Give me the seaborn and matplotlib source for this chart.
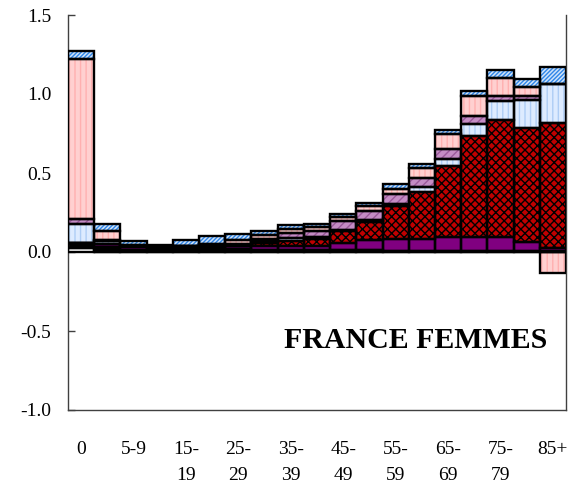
import numpy as np
import pandas as pd
import seaborn as sns
import matplotlib
matplotlib.use("Agg")
import matplotlib.pyplot as plt

ages = ["0", "1-4", "5-9", "10-14", "15-19", "20-24", "25-29", "30-34", "35-39",
        "40-44", "45-49", "50-54", "55-59", "60-64", "65-69", "70-74", "75-79",
        "80-84", "85+"]
tick_labels = ["0", "", "5-9", "", "15-\n19", "", "25-\n29", "", "35-\n39", "",
               "45-\n49", "", "55-\n59", "", "65-\n69", "", "75-\n79", "", "85+"]

white_part = [0.025, 0, 0, 0, 0, 0, 0, 0, 0, 0, 0, 0, 0, 0, 0, 0, 0, 0, 0]
black_part = [0.035, 0.03, 0.015, 0.015, 0.02, 0.025, 0.02, 0.015, 0.01, 0.01,
              0.01, 0.01, 0.005, 0.005, 0.005, 0.005, 0.005, 0.005, 0.005]
purple_part = [0.0, 0.02, 0.015, 0.01, 0.01, 0.015, 0.015, 0.02, 0.03, 0.03,
               0.045, 0.065, 0.075, 0.08, 0.09, 0.09, 0.09, 0.06, 0.02]
red_part = [0, 0, 0, 0, 0, 0, 0.005, 0.02, 0.03, 0.04,
            0.075, 0.115, 0.21, 0.295, 0.45, 0.64, 0.74, 0.72, 0.79]
lightblue_part = [0.12, 0.02, 0.005, 0, 0.005, 0.005, 0.005, 0.015, 0.02, 0.015,
                  0.01, 0.01, 0.015, 0.03, 0.044, 0.075, 0.12, 0.18, 0.25]
mauve_part = [0.03, 0.005, 0, 0, 0, 0, 0.005, 0.01, 0.03, 0.04,
              0.055, 0.06, 0.065, 0.06, 0.063, 0.05, 0.035, 0.025, 0]
pink_part = [1.01, 0.055, 0.012, 0.015, 0.005, 0.005, 0.025, 0.03, 0.025, 0.025,
             0.025, 0.03, 0.03, 0.06, 0.095, 0.13, 0.11, 0.055, -0.13]
bluehatch_part = [0.05, 0.05, 0.025, 0.005, 0.035, 0.05, 0.04, 0.02, 0.025, 0.02,
                  0.02, 0.02, 0.03, 0.025, 0.025, 0.03, 0.05, 0.05, 0.105]

y_ticks = [-1.0, -0.5, 0.0, 0.5, 1.0, 1.5]
title_text = "FRANCE FEMMES"

layers = [
    (white_part, "#FFFFFF", "#FFFFFF", None),
    (black_part, "#000000", "#000000", None),
    (purple_part, "#800080", "#800080", None),
    (red_part, "#C00000", "#000000", "xxxx"),
    (lightblue_part, "#DDEBFF", "#AECDF5", "|||"),
    (mauve_part, "#C48CC4", "#9A5A9A", "////"),
    (pink_part, "#FFD0D0", "#FFB0B0", "|||"),
    (bluehatch_part, "#CFE3FA", "#2F86E8", "////////"),
]

plt.rcParams["hatch.linewidth"] = 1.0
sns.set_style("white")
plt.rcParams["font.family"] = ["Liberation Serif", "DejaVu Serif"]
plt.rcParams["text.color"] = "black"
plt.rcParams["xtick.color"] = "black"
plt.rcParams["ytick.color"] = "black"

fig = plt.figure(figsize=(5.72, 4.87), dpi=100)
ax = fig.add_axes([68 / 572, 1 - 410 / 487, 498 / 572, 395 / 487])

pos_base = np.zeros(len(ages))
neg_base = np.zeros(len(ages))
segments = []
for vals, face, hcol, hatch in layers:
    v = np.array(vals, dtype=float)
    bottoms = np.where(v >= 0, pos_base, neg_base)
    segments.append((v, bottoms, face, hcol, hatch))
    pos_base = pos_base + np.where(v > 0, v, 0)
    neg_base = neg_base + np.where(v < 0, v, 0)

for v, bottoms, face, hcol, hatch in segments:
    df = pd.DataFrame({"age": ages, "val": v})
    sns.barplot(data=df, x="age", y="val", order=ages, bottom=bottoms,
                width=1.0, saturation=1, errorbar=None, ax=ax, color=face,
                facecolor=face, edgecolor=hcol, hatch=hatch, linewidth=0,
                zorder=2)

for v, bottoms, face, hcol, hatch in segments:
    df = pd.DataFrame({"age": ages, "val": v})
    sns.barplot(data=df, x="age", y="val", order=ages, bottom=bottoms,
                width=1.0, saturation=1, errorbar=None, ax=ax, color="black",
                facecolor="none", edgecolor="black", linewidth=1.7, zorder=3)

ax.axhline(0, color="#8c8c8c", lw=1.2, zorder=1)

ax.set_xlim(-0.5, len(ages) - 0.5)
ax.set_ylim(-1.0, 1.5)
ax.set_yticks(y_ticks)
ax.set_yticklabels([f"{t:.1f}" for t in y_ticks])
ax.set_xticks(range(len(ages)))
ax.set_xticklabels(tick_labels, linespacing=1.75)
ax.set_xlabel("")
ax.set_ylabel("")
ax.tick_params(axis="y", direction="in", length=5, width=1, color="#404040",
               labelcolor="black", labelsize=14, pad=12, left=True)
ax.tick_params(axis="x", length=0, labelsize=14, labelcolor="black", pad=22)
for lab in ax.get_xticklabels():
    lab.set_verticalalignment("top")

for side in ["left", "bottom", "right"]:
    ax.spines[side].set_visible(True)
    ax.spines[side].set_color("#404040")
    ax.spines[side].set_linewidth(1.0)
ax.spines["top"].set_visible(False)

ax.text(0.699, 0.175, title_text, transform=ax.transAxes, ha="center",
        va="center", fontsize=21.5, fontweight="bold", color="black", zorder=5)

fig.savefig("out.png", dpi=100, facecolor="white")
